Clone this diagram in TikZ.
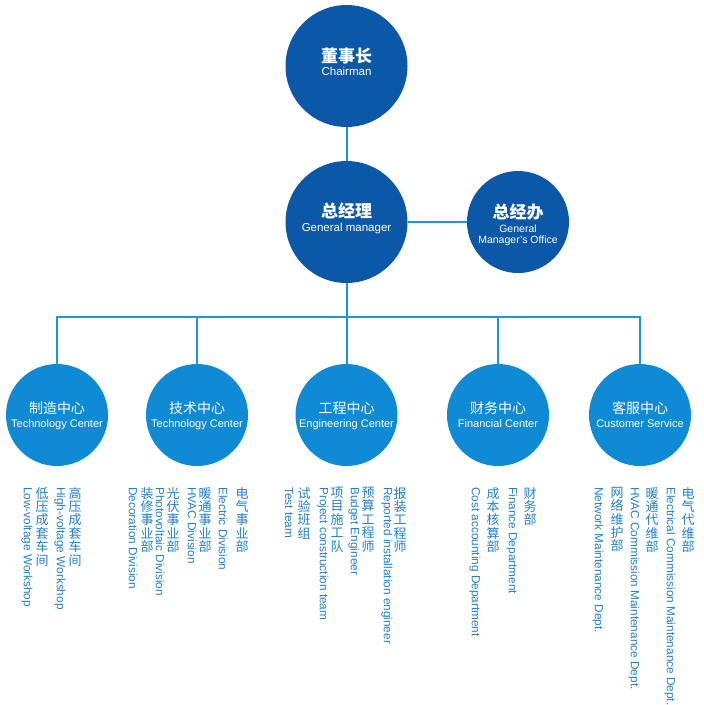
\documentclass[tikz,border=0pt]{standalone}
\usepackage{fontspec}
\setmainfont{Liberation Sans}
\newfontfamily\cjk{Noto Sans CJK SC}
\definecolor{darkblue}{HTML}{0C58A8}
\definecolor{lightblue}{HTML}{0F8BD6}
\definecolor{lineblue}{HTML}{1A98DE}
\definecolor{textblue}{HTML}{237FCC}
\begin{document}
\begin{tikzpicture}[x=1pt,y=-1pt,
  bigc/.style={circle,fill=darkblue,minimum size=122pt,inner sep=0pt},
  officec/.style={circle,fill=darkblue,minimum size=102pt,inner sep=0pt},
  centc/.style={circle,fill=lightblue,minimum size=102pt,inner sep=0pt},
  conn/.style={draw=lineblue,line width=2pt},
  zhbig/.style={anchor=base,inner sep=0pt,text=white,font=\cjk\bfseries\fontsize{17}{17}\selectfont},
  enbig/.style={anchor=base,inner sep=0pt,text=white,font=\fontsize{11.5}{12}\selectfont},
  enoff/.style={anchor=base,inner sep=0pt,text=white,font=\fontsize{10.5}{11}\selectfont},
  zhmid/.style={anchor=base,inner sep=0pt,text=white,font=\cjk\fontsize{14}{14}\selectfont},
  enmid/.style={anchor=base,inner sep=0pt,text=white,font=\fontsize{11}{12}\selectfont},
  zhcol/.style={anchor=north,inner sep=0pt,text=textblue,align=center,font=\cjk\fontsize{13}{13.4}\selectfont},
  encol/.style={anchor=west,rotate=-90,inner sep=0pt,text=textblue,font=\fontsize{11.8}{12}\selectfont}]
\useasboundingbox (0,0) rectangle (704,705);
% main circles
\node[bigc] (ch) at (346.5,66) {};
\node[bigc] (gm) at (346.5,222) {};
\node[officec] (of) at (518,222) {};
\node[centc] (c1) at (57,415) {};
\node[centc] (c2) at (197,415) {};
\node[centc] (c3) at (346.5,415) {};
\node[centc] (c4) at (498,415) {};
\node[centc] (c5) at (640,415) {};
\coordinate (bus) at (346.5,317);
% connectors
\draw[conn] (ch.south) -- (gm.north);
\draw[conn] (gm.east) -- (of.west);
\draw[conn] (gm.south) -- (bus);
\draw[conn] (c1.north) |- (bus);
\draw[conn] (c2.north) |- (bus);
\draw[conn] (c3.north) -- (bus);
\draw[conn] (c4.north) |- (bus);
\draw[conn] (c5.north) |- (bus);
% circle texts
\node[zhbig] (t1) at (346.5,62) {董事长};
\node[enbig] (t2) at (346.5,75.5) {Chairman};
\node[zhbig] (t3) at (346.5,217) {总经理};
\node[enbig] (t4) at (346.5,231) {General manager};
\node[zhbig] (t5) at (518,218.5) {总经办};
\node[enoff] (t6) at (518,232.5) {General};
\node[enoff] (t7) at (518,243.5) {Manager's Office};
\node[zhmid] (m1) at (57,413.5) {制造中心};
\node[enmid] (e1) at (57,427) {Technology Center};
\node[zhmid] (m2) at (197,413.5) {技术中心};
\node[enmid] (e2) at (197,427) {Technology Center};
\node[zhmid] (m3) at (346.5,413.5) {工程中心};
\node[enmid] (e3) at (346.5,427) {Engineering Center};
\node[zhmid] (m4) at (498,413.5) {财务中心};
\node[enmid] (e4) at (498,427) {Financial Center};
\node[zhmid] (m5) at (640,413.5) {客服中心};
\node[enmid] (e5) at (640,427) {Customer Service};
% column texts group 1
\node[encol] (a1) at (27,487) {Low-voltage Workshop};
\node[zhcol] (a2) at (42,487) {低\\压\\成\\套\\车\\间};
\node[encol] (a3) at (60,487) {High-voltage Workshop};
\node[zhcol] (a4) at (75,487) {高\\压\\成\\套\\车\\间};
% group 2
\node[encol] (b1) at (133,487) {Decoration Division};
\node[zhcol] (b2) at (147,487) {装\\修\\事\\业\\部};
\node[encol] (b3) at (160,487) {Photovoltaic Division};
\node[zhcol] (b4) at (173,487) {光\\伏\\事\\业\\部};
\node[encol] (b5) at (192,487) {HVAC Division};
\node[zhcol] (b6) at (205,487) {暖\\通\\事\\业\\部};
\node[encol] (b7) at (223,487) {Electric Division};
\node[zhcol] (b8) at (242,487) {电\\气\\事\\业\\部};
% group 3
\node[encol] (d1) at (289,487) {Test team};
\node[zhcol] (d2) at (304,487) {试\\验\\班\\组};
\node[encol] (d3) at (323,487) {Project construction team};
\node[zhcol] (d4) at (337,487) {项\\目\\施\\工\\队};
\node[encol] (d5) at (354,487) {Budget Engineer};
\node[zhcol] (d6) at (368,487) {预\\算\\工\\程\\师};
\node[encol] (d7) at (387,487) {Reported installation engineer};
\node[zhcol] (d8) at (400,487) {报\\装\\工\\程\\师};
% group 4
\node[encol] (f1) at (475,487) {Cost accounting Department};
\node[zhcol] (f2) at (493,487) {成\\本\\核\\算\\部};
\node[encol] (f3) at (512,487) {Finance Department};
\node[zhcol] (f4) at (530,487) {财\\务\\部};
% group 5
\node[encol] (g1) at (598,487) {Network Maintenance Dept.};
\node[zhcol] (g2) at (617,487) {网\\络\\维\\护\\部};
\node[encol] (g3) at (634,487) {HVAC Commission Maintenance Dept.};
\node[zhcol] (g4) at (652,487) {暖\\通\\代\\维\\部};
\node[encol] (g5) at (670,487) {Electrical Commission Maintenance Dept.};
\node[zhcol] (g6) at (688,487) {电\\气\\代\\维\\部};
\end{tikzpicture}
\end{document}
